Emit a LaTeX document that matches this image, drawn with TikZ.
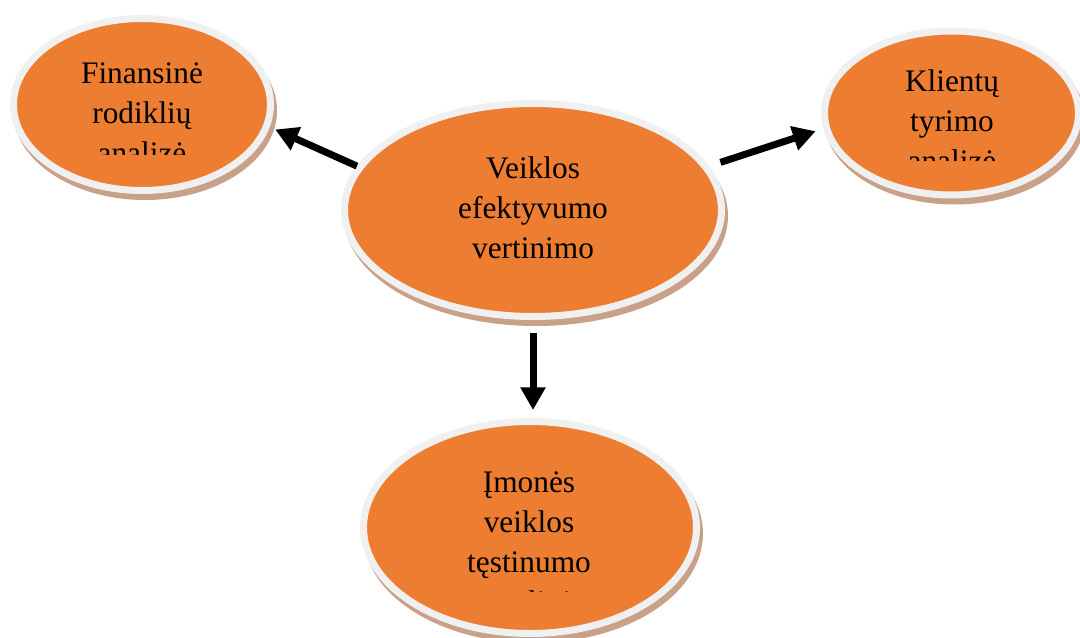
\documentclass[tikz,border=0pt]{standalone}
\usepackage{fontspec}
\setmainfont{Liberation Serif}
\usetikzlibrary{shapes.geometric,arrows.meta,shadows}
\definecolor{bubbleorange}{HTML}{ED7D31}
\definecolor{rimgray}{HTML}{F0F0F0}
\definecolor{shadowbrown}{RGB}{201,160,136}

\begin{document}
\begin{tikzpicture}[x=0.75pt, y=-0.75pt,
    oval/.style={ellipse, fill=bubbleorange, draw=rimgray, line width=5.25pt,
      drop shadow={shadow xshift=2.25pt, shadow yshift=-4.5pt, fill=shadowbrown, draw=shadowbrown, opacity=1}},
    oval text/.style={align=center, anchor=north, inner sep=0pt, font=\fontsize{23.5pt}{30pt}\selectfont},
    link/.style={line width=5.25pt, -{Triangle[length=17pt, width=18pt]}}]
    \useasboundingbox (0,0) rectangle (1080,638);

    \node[oval, minimum width=282.75pt, minimum height=159.75pt] (ctr) at (533,210) {};
    \node[oval, minimum width=192.75pt, minimum height=129pt] (fin) at (142,104.5) {};
    \node[oval, minimum width=190.5pt, minimum height=123pt] (kli) at (951.5,113) {};
    \node[oval, minimum width=249.75pt, minimum height=159pt] (imo) at (530,527.5) {};

    % texts, the long ones are cut off like in the original
    \node[oval text] (ctr text) at (533,156) {Veiklos\\efektyvumo\\vertinimo};
    \begin{scope}
        \clip (17,20) rectangle (267,154);
        \node[oval text] (fin text) at (142,62) {Finansinė\\rodiklių\\analizė};
    \end{scope}
    \begin{scope}
        \clip (828,35) rectangle (1075,160);
        \node[oval text] (kli text) at (952,69) {Klientų\\tyrimo\\analizė};
    \end{scope}
    \begin{scope}
        \clip (367,425) rectangle (693,591);
        \node[oval text] (imo text) at (529,471) {Įmonės\\veiklos\\tęstinumo\\analizė};
    \end{scope}

    \draw[link, shorten >=4.5pt] (ctr.166.4) -- (fin.-10);
    \draw[link, shorten <=9pt, shorten >=6pt] (ctr.14.1) -- (kli.187.1);
    \draw[link, shorten <=9.75pt, shorten >=6pt] (ctr.south) -- (ctr.south |- imo.north);
\end{tikzpicture}
\end{document}
